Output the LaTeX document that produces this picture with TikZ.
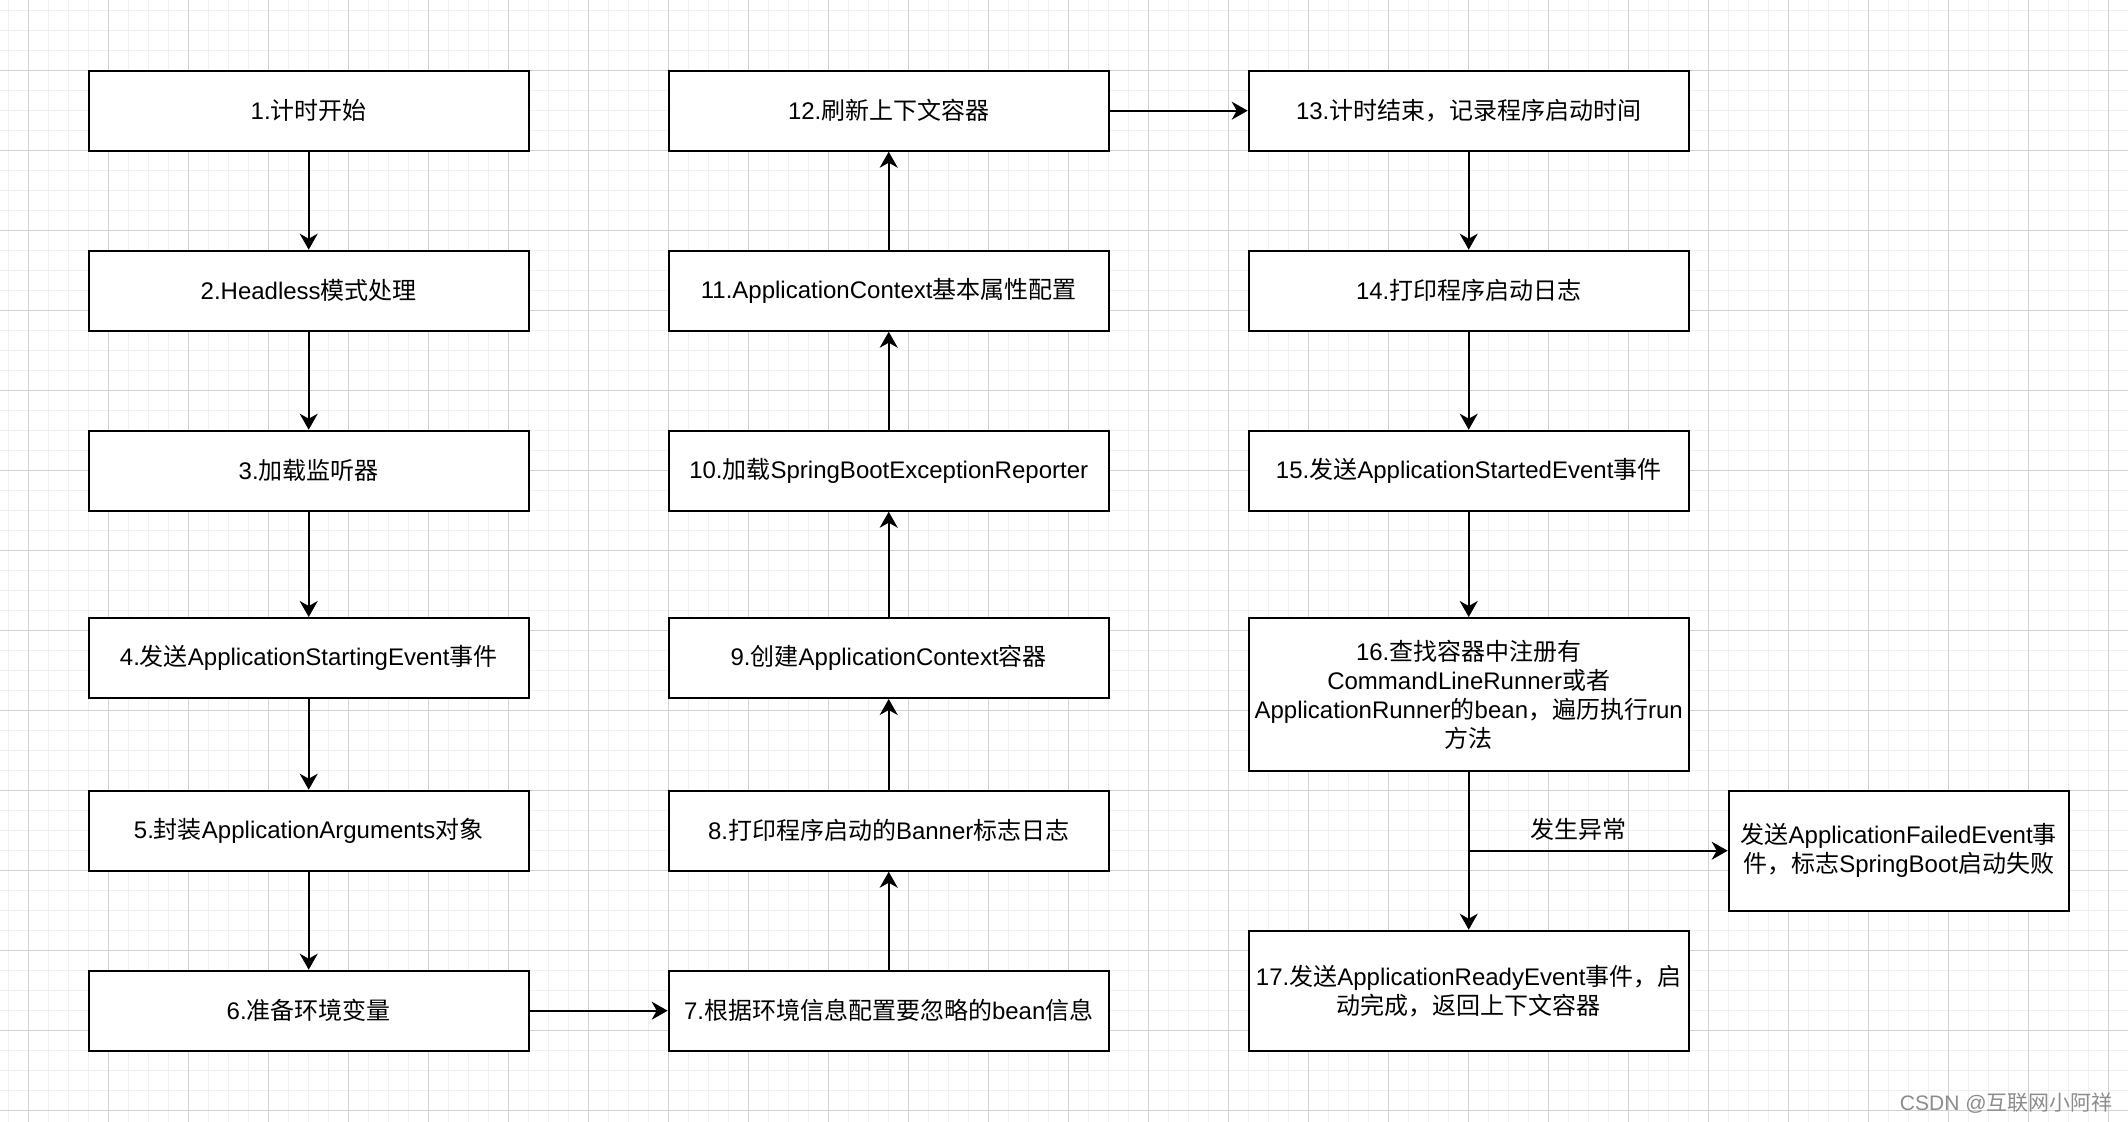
\documentclass[tikz,border=0pt]{standalone}
\usepackage{fontspec}
\setmainfont{Liberation Sans}
\newfontfamily\cjkfont{Noto Sans CJK SC}
\newcommand\zhtxt[1]{{\cjkfont #1}}
\usetikzlibrary{arrows.meta}
\definecolor{gridminor}{HTML}{F0F0F0}
\definecolor{gridmajor}{HTML}{D2D2D2}
\begin{document}
\begin{tikzpicture}[x=0.5pt,y=-0.5pt,
  box/.style={draw=black, line width=1pt, fill=white, minimum width=220pt, minimum height=40pt, inner sep=0pt, align=center, font=\fontsize{12pt}{14.5pt}\selectfont},
  arr/.style={line width=1pt, -{Stealth[length=8pt,width=9pt,inset=2.5pt]}},
  lbl/.style={inner sep=0pt, font=\fontsize{12pt}{14.5pt}\selectfont},
]
\useasboundingbox (0,0) rectangle (2128,1122);
\fill[white] (0,0) rectangle (2128,1122);
% grid
\foreach \gx in {8.3,28.3,...,2128} \draw[gridminor, line width=0.8pt] (\gx,0) -- (\gx,1122);
\foreach \gy in {10.5,30.5,...,1122} \draw[gridminor, line width=0.8pt] (0,\gy) -- (2128,\gy);
\foreach \gx in {28.3,108.3,...,2128} \draw[gridmajor, line width=0.5pt] (\gx,0) -- (\gx,1122);
\foreach \gy in {70.5,150.5,...,1122} \draw[gridmajor, line width=0.5pt] (0,\gy) -- (2128,\gy);

% column 1
\node[box] (n1) at (308.7,110.7) {1.\zhtxt{计时开始}};
\node[box] (n2) at (308.7,290.7) {2.Headless\zhtxt{模式处理}};
\node[box] (n3) at (308.7,470.7) {3.\zhtxt{加载监听器}};
\node[box] (n4) at (308.7,658) {4.\zhtxt{发送}ApplicationStartingEvent\zhtxt{事件}};
\node[box] (n5) at (308.7,830.7) {5.\zhtxt{封装}ApplicationArguments\zhtxt{对象}};
\node[box] (n6) at (308.7,1010.7) {6.\zhtxt{准备环境变量}};
% column 2
\node[box] (n7) at (888.7,1010.7) {7.\zhtxt{根据环境信息配置要忽略的}bean\zhtxt{信息}};
\node[box] (n8) at (888.7,830.7) {8.\zhtxt{打印程序启动的}Banner\zhtxt{标志日志}};
\node[box] (n9) at (888.7,658) {9.\zhtxt{创建}ApplicationContext\zhtxt{容器}};
\node[box] (n10) at (888.7,470.7) {10.\zhtxt{加载}SpringBootExceptionReporter};
\node[box] (n11) at (888.7,290.7) {11.ApplicationContext\zhtxt{基本属性配置}};
\node[box] (n12) at (888.7,110.7) {12.\zhtxt{刷新上下文容器}};
% column 3
\node[box] (n13) at (1468.7,110.7) {13.\zhtxt{计时结束，记录程序启动时间}};
\node[box] (n14) at (1468.7,290.7) {14.\zhtxt{打印程序启动日志}};
\node[box] (n15) at (1468.7,470.7) {15.\zhtxt{发送}ApplicationStartedEvent\zhtxt{事件}};
\node[box, minimum height=76.35pt] (n16) at (1468.7,694.35) {16.\zhtxt{查找容器中注册有}\\CommandLineRunner\zhtxt{或者}\\ApplicationRunner\zhtxt{的}bean\zhtxt{，遍历执行}run\\\zhtxt{方法}};
\node[box, minimum height=60pt] (n17) at (1468.7,990.7) {17.\zhtxt{发送}ApplicationReadyEvent\zhtxt{事件，启}\\\zhtxt{动完成，返回上下文容器}};
\node[box, minimum width=170pt, minimum height=60pt] (fail) at (1898.7,850.7) {\zhtxt{发送}ApplicationFailedEvent\zhtxt{事}\\\zhtxt{件，标志}SpringBoot\zhtxt{启动失败}};

% connectors
\draw[arr] (n1) -- (n2);
\draw[arr] (n2) -- (n3);
\draw[arr] (n3) -- (n4);
\draw[arr] (n4) -- (n5);
\draw[arr] (n5) -- (n6);
\draw[arr] (n6) -- (n7);
\draw[arr] (n7) -- (n8);
\draw[arr] (n8) -- (n9);
\draw[arr] (n9) -- (n10);
\draw[arr] (n10) -- (n11);
\draw[arr] (n11) -- (n12);
\draw[arr] (n12) -- (n13);
\draw[arr] (n13) -- (n14);
\draw[arr] (n14) -- (n15);
\draw[arr] (n15) -- (n16);
\draw[arr] (n16) -- (n17);
\coordinate (br) at (n16.south |- fail.west);
\draw[arr] (br) -- (fail);
\node[lbl] (exc) at (1578.7,829) {\zhtxt{发生异常}};

% watermark
\node[anchor=base east, inner sep=0pt, text=black!45, font=\fontsize{10.5pt}{12pt}\selectfont] (wm) at (2113,1110) {CSDN @\zhtxt{互联网小阿祥}};
\end{tikzpicture}
\end{document}
